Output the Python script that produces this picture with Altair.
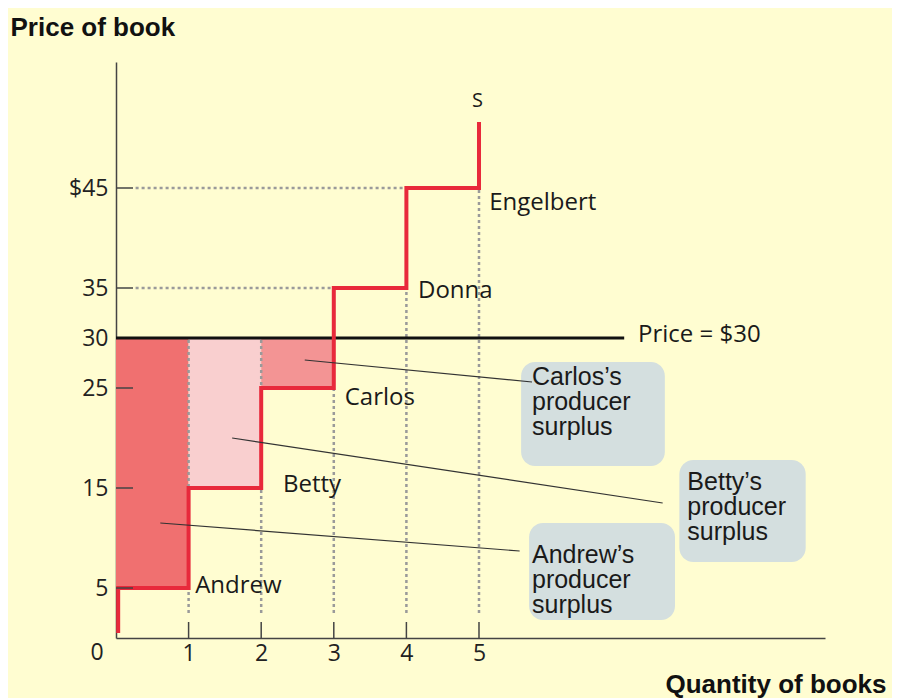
import altair as alt
import pandas as pd

# ---- data ----
supply_q = [0.03, 0.03, 1, 1, 2, 2, 3, 3, 4, 4, 5, 5]
supply_p = [0.5, 5, 5, 15, 15, 25, 25, 35, 35, 45, 45, 51.6]

sellers = ["Andrew", "Betty", "Carlos", "Donna", "Engelbert"]
seller_label_x = [1.09, 2.30, 3.15, 4.16, 5.14]
seller_label_y = [4.5, 14.6, 23.3, 34.0, 42.8]

market_price = 30
price_line_end = 7.0

surplus_x0 = [0, 1, 2]
surplus_x1 = [1, 2, 3]
surplus_low = [5, 15, 25]
surplus_colors = ["#F07070", "#F9CFCF", "#F39494"]

vdot_x = [1, 2, 3, 4, 5]
vdot_top = [30, 30, 25, 35, 45]
vdot_bottom = 2.5
hdot_y = [45, 35]
hdot_x0 = 0.27
hdot_x1 = [4, 3]

y_ticks = [5, 15, 25, 30, 35, 45]
y_tick_marks = [5, 15, 25, 35, 45]
x_ticks = [1, 2, 3, 4, 5]

box_text = ["Carlos\u2019s\nproducer\nsurplus", "Betty\u2019s\nproducer\nsurplus", "Andrew\u2019s\nproducer\nsurplus"]
box_x0 = [5.58, 7.76, 5.69]
box_x1 = [7.56, 9.50, 7.70]
box_y0 = [27.6, 17.8, 11.5]
box_y1 = [17.2, 7.6, 1.8]
box_text_x = [5.73, 7.87, 5.73]
box_text_y = [25.3, 14.8, 7.5]

call_x0 = [2.60, 1.60, 0.61]
call_y0 = [27.8, 20.0, 11.5]
call_x1 = [5.73, 7.53, 5.56]
call_y1 = [25.6, 13.5, 8.7]

X_MAX = 9.766
Y_MAX = 57.6

xs = alt.Scale(domain=[0, X_MAX], nice=False, zero=False)
ys = alt.Scale(domain=[0, Y_MAX], nice=False, zero=False)

LABEL_FONT = "Open Sans"
BOX_FONT = "Liberation Sans"

# ---- tables ----
fills = pd.DataFrame({"x0": surplus_x0, "x1": surplus_x1, "lo": surplus_low,
                      "hi": [market_price] * 3, "c": surplus_colors})
vdots = pd.DataFrame({"x": vdot_x, "top": vdot_top, "bot": [vdot_bottom] * 5})
hdots = pd.DataFrame({"y": hdot_y, "x0": [hdot_x0] * 2, "x1": hdot_x1})
supply = pd.DataFrame({"q": supply_q, "p": supply_p, "o": list(range(len(supply_q)))})
price = pd.DataFrame({"x0": [0], "x1": [price_line_end], "y": [market_price]})
labels = pd.DataFrame({"x": seller_label_x, "y": seller_label_y, "t": sellers})
boxes = pd.DataFrame({"x0": box_x0, "x1": box_x1, "y0": box_y0, "y1": box_y1,
                      "tx": box_text_x, "ty": box_text_y, "t": box_text})
calls = pd.DataFrame({"x0": call_x0, "y0": call_y0, "x1": call_x1, "y1": call_y1})
yt = pd.DataFrame({"v": y_tick_marks})
xt = pd.DataFrame({"v": x_ticks})

# ---- layers ----
axes_base = alt.Chart(fills).mark_rect().encode(
    x=alt.X("x0:Q", scale=xs, axis=alt.Axis(
        values=x_ticks, format="d", ticks=False, grid=False, labelFont=LABEL_FONT, labelFontSize=23,
        labelColor="#222", labelPadding=4, domainColor="#444", domainWidth=1.5,
        title="Quantity of books", titleX=549, titleY=54, titleAlign="left",
        titleBaseline="alphabetic", titleFont=BOX_FONT, titleFontSize=26,
        titleFontWeight="bold", titleColor="#111")),
    x2="x1:Q",
    y=alt.Y("lo:Q", scale=ys, axis=alt.Axis(
        values=y_ticks, ticks=False, grid=False, labelFont=LABEL_FONT, labelFontSize=23,
        labelColor="#222", labelPadding=8, domainColor="#444", domainWidth=1.5,
        labelExpr="datum.value == 45 ? '$45' : datum.label",
        title="Price of book", titleAngle=0, titleX=-106, titleY=-27, titleAlign="left",
        titleBaseline="alphabetic", titleFont=BOX_FONT, titleFontSize=26,
        titleFontWeight="bold", titleColor="#111")),
    y2="hi:Q",
    color=alt.Color("c:N", scale=None),
)

vdot_layer = alt.Chart(vdots).mark_rule(color="#9a9a9a", strokeWidth=2.5, strokeDash=[3, 3]).encode(
    x=alt.X("x:Q", scale=xs), y=alt.Y("bot:Q", scale=ys), y2="top:Q")
hdot_layer = alt.Chart(hdots).mark_rule(color="#9a9a9a", strokeWidth=2.5, strokeDash=[3, 3]).encode(
    x=alt.X("x0:Q", scale=xs), x2="x1:Q", y=alt.Y("y:Q", scale=ys))

price_layer = alt.Chart(price).mark_rule(color="#111", strokeWidth=3).encode(
    x=alt.X("x0:Q", scale=xs), x2="x1:Q", y=alt.Y("y:Q", scale=ys))
price_text = alt.Chart(pd.DataFrame({"x": [7.19], "y": [30.3], "t": ["Price = $30"]})).mark_text(
    font=LABEL_FONT, fontSize=24, color="#1a1a1a", align="left", baseline="middle").encode(
    x=alt.X("x:Q", scale=xs), y=alt.Y("y:Q", scale=ys), text="t:N")

supply_layer = alt.Chart(supply).mark_line(color="#E8293B", strokeWidth=4, strokeJoin="miter",
                                           strokeCap="butt").encode(
    x=alt.X("q:Q", scale=xs), y=alt.Y("p:Q", scale=ys), order="o:Q")
s_text = alt.Chart(pd.DataFrame({"x": [4.98], "y": [53.1], "t": ["S"]})).mark_text(
    font=LABEL_FONT, fontSize=20, color="#1a1a1a", align="center", baseline="alphabetic").encode(
    x=alt.X("x:Q", scale=xs), y=alt.Y("y:Q", scale=ys), text="t:N")

ytick_layer = alt.Chart(yt).mark_rule(color="#444", strokeWidth=1.5).encode(
    x=alt.value(0), x2=alt.value(17), y=alt.Y("v:Q", scale=ys))
xtick_layer = alt.Chart(xt).mark_rule(color="#444", strokeWidth=1.5).encode(
    x=alt.X("v:Q", scale=xs), y=alt.value(576), y2=alt.value(560))
zero_text = alt.Chart(pd.DataFrame({"x": [0], "y": [0], "t": ["0"]})).mark_text(
    font=LABEL_FONT, fontSize=23, color="#222", align="center", baseline="top", dx=-19, dy=4).encode(
    x=alt.X("x:Q", scale=xs), y=alt.Y("y:Q", scale=ys), text="t:N")

label_layer = alt.Chart(labels).mark_text(
    font=LABEL_FONT, fontSize=24, color="#1a1a1a", align="left", baseline="alphabetic").encode(
    x=alt.X("x:Q", scale=xs), y=alt.Y("y:Q", scale=ys), text="t:N")

box_layer = alt.Chart(boxes).mark_rect(color="#D4DFDF", cornerRadius=14).encode(
    x=alt.X("x0:Q", scale=xs), x2="x1:Q", y=alt.Y("y0:Q", scale=ys), y2="y1:Q")
box_text_layer = alt.Chart(boxes).mark_text(
    font=BOX_FONT, fontSize=25, lineHeight=25, lineBreak="\n", color="#1a1a1a",
    align="left", baseline="alphabetic").encode(
    x=alt.X("tx:Q", scale=xs), y=alt.Y("ty:Q", scale=ys), text="t:N")

call_layer = alt.Chart(calls).mark_rule(color="#333", strokeWidth=1.2).encode(
    x=alt.X("x0:Q", scale=xs), y=alt.Y("y0:Q", scale=ys), x2="x1:Q", y2="y1:Q")

chart = alt.layer(
    axes_base, vdot_layer, hdot_layer, price_layer, price_text, supply_layer, s_text,
    ytick_layer, xtick_layer, zero_text, label_layer, box_layer, call_layer, box_text_layer,
).properties(
    width=709, height=576,
    autosize=alt.AutoSizeParams(type="none"),
    padding={"left": 108, "top": 54, "right": 67, "bottom": 60},
    background="#FFFDD1",
).configure_view(stroke=None)

chart.save("out.html", embed_options={"renderer": "svg", "actions": False})
